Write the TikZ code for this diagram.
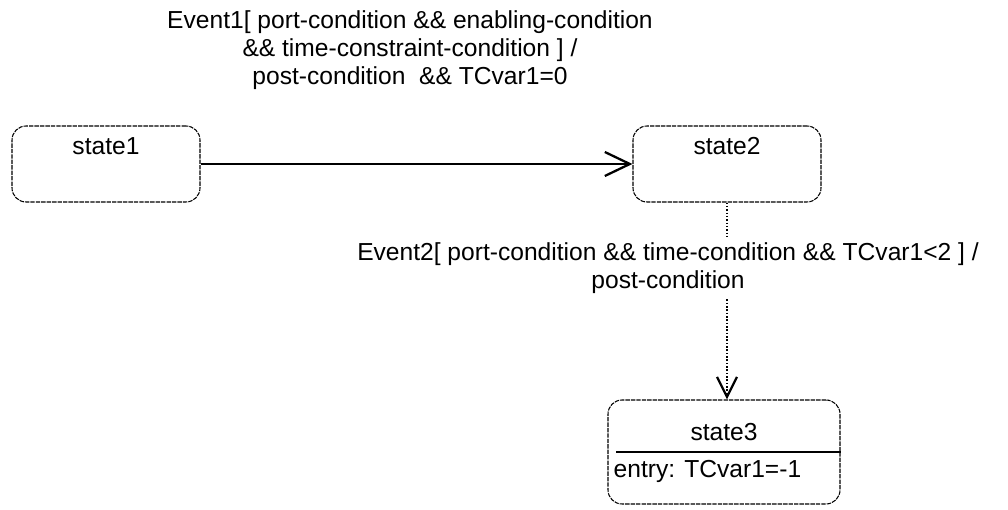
\documentclass[tikz,border=0pt]{standalone}
\usepackage{fontspec}
\setmainfont{Liberation Sans}
\usetikzlibrary{arrows.meta,positioning}

\begin{document}
\begin{tikzpicture}[
  statebox/.style={draw,line width=0.6pt,dash pattern=on 2.5pt off 0.6pt,rounded corners=8pt,minimum width=3.76cm,minimum height=1.52cm,inner sep=0pt},
  txt/.style={font=\fontsize{14}{16}\selectfont},
  trans/.style={line width=0.9pt,-{Straight Barb[length=0.5cm,width=0.48cm,line width=1.3pt]}}
]
  \useasboundingbox (0,0) rectangle (20.16,10.2);
  % states
  \node[statebox] (s1) at (2.12,6.92) {};
  \node[txt,below=0.12cm of s1.north] (s1t) {state1};
  \node[statebox] (s2) at (14.54,6.92) {};
  \node[txt,below=0.12cm of s2.north] (s2t) {state2};
  \node[statebox,minimum width=4.64cm,minimum height=2.08cm] (s3) at (14.48,1.16) {};
  \node[txt,above=0.1cm of s3.center] (s3t) {state3};
  \draw[line width=0.7pt] ([xshift=0.18cm]s3.west) -- (s3.east);
  \node[txt,below right=0.05cm and 0cm of s3.west] (s3e) {entry: TCvar1=-1};
  % transitions
  \draw[trans] (s1.east) -- (s2.west);
  \node[txt,align=center] (ev1) at (8.2,9.2) {Event1[ port-condition \&\& enabling-condition\\
    \&\& time-constraint-condition ] /\\
    post-condition~ \&\& TCvar1=0};
  \draw[trans,densely dotted,line width=0.6pt,-{Straight Barb[length=0.4cm,width=0.4cm,line width=1.3pt]}] (s2.south) -- (s2.south |- s3.north);
  \node[txt,align=center,fill=white] (ev2) at (13.36,4.84) {Event2[ port-condition \&\& time-condition \&\& TCvar1<2 ] /\\
    post-condition};
\end{tikzpicture}
\end{document}
